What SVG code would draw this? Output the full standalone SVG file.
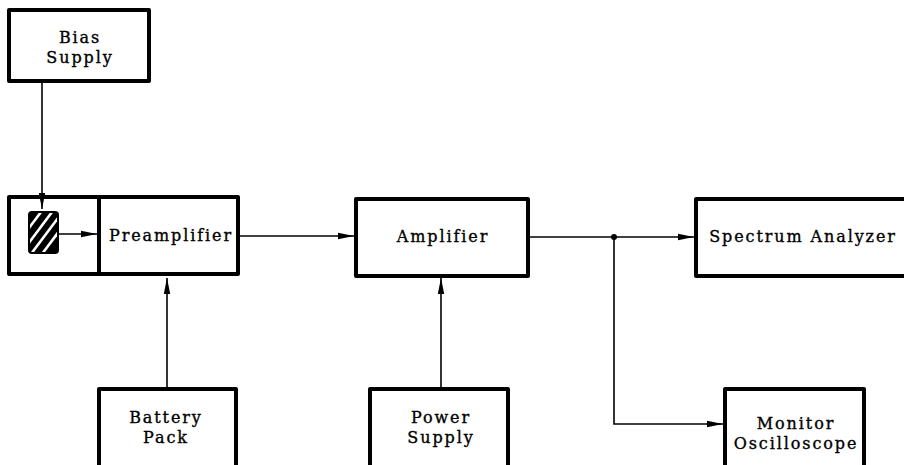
<svg xmlns="http://www.w3.org/2000/svg" width="904" height="465" viewBox="0 0 904 465">
  <style>
    .box { fill: #fff; stroke: #000; stroke-width: 4; stroke-linejoin: round; }
    .wire { fill: none; stroke: #000; stroke-width: 1.6; }
    .lbl { font-family: "DejaVu Serif", "Liberation Serif", serif; font-size: 16px; letter-spacing: 1.9px; fill: #000; stroke: #000; stroke-width: 0.35; text-anchor: middle; }
  </style>
  <defs>
    <marker id="arrow" markerUnits="userSpaceOnUse" markerWidth="16" markerHeight="8" refX="16" refY="4" orient="auto">
      <path d="M0,0.8 L16,4 L0,7.2 Z" fill="#000"/>
    </marker>
    <clipPath id="detClip">
      <rect x="30" y="213" width="27" height="39" rx="2"/>
    </clipPath>
  </defs>
  <rect x="0" y="0" width="904" height="465" fill="#fff"/>

  <g id="bias-supply">
    <rect class="box" x="9" y="10" width="140" height="71"/>
    <text class="lbl" x="80" y="43">Bias</text>
    <text class="lbl" x="80" y="63">Supply</text>
  </g>

  <g id="preamplifier">
    <rect class="box" x="9" y="197" width="229" height="77"/>
    <line x1="99" y1="197" x2="99" y2="274" stroke="#000" stroke-width="4"/>
    <g id="detector">
      <rect x="28" y="211" width="31" height="43" rx="4" fill="#000"/>
      <g clip-path="url(#detClip)" stroke="#fff" stroke-width="2.6">
        <line x1="20" y1="240" x2="50" y2="200"/>
        <line x1="22" y1="252" x2="55" y2="208"/>
        <line x1="28" y1="258" x2="61" y2="214"/>
        <line x1="36" y1="262" x2="66" y2="222"/>
      </g>
    </g>
    <text class="lbl" x="171" y="241">Preamplifier</text>
  </g>

  <g id="amplifier">
    <rect class="box" x="356" y="199" width="172" height="77"/>
    <text class="lbl" x="443" y="242">Amplifier</text>
  </g>

  <g id="spectrum-analyzer">
    <rect class="box" x="696" y="199" width="220" height="77"/>
    <text class="lbl" x="803" y="242">Spectrum Analyzer</text>
  </g>

  <g id="battery-pack">
    <rect class="box" x="99" y="389" width="137" height="85"/>
    <text class="lbl" x="166" y="423">Battery</text>
    <text class="lbl" x="166" y="443">Pack</text>
  </g>

  <g id="power-supply">
    <rect class="box" x="370" y="389" width="138" height="85"/>
    <text class="lbl" x="441" y="423">Power</text>
    <text class="lbl" x="441" y="443">Supply</text>
  </g>

  <g id="monitor-oscilloscope">
    <rect class="box" x="725" y="389" width="139" height="85"/>
    <text class="lbl" x="796" y="429">Monitor</text>
    <text class="lbl" x="796" y="449">Oscilloscope</text>
  </g>

  <!-- signal and supply lines, drawn over the boxes so arrowheads stay visible -->
  <g id="connectors">
    <line class="wire" x1="42" y1="81" x2="42" y2="209" marker-end="url(#arrow)"/>
    <line class="wire" x1="59" y1="234" x2="97" y2="234" marker-end="url(#arrow)"/>
    <line class="wire" x1="240" y1="236" x2="354" y2="236" marker-end="url(#arrow)"/>
    <line class="wire" x1="530" y1="237" x2="694" y2="237" marker-end="url(#arrow)"/>
    <polyline class="wire" points="614,237 614,424 723,424" marker-end="url(#arrow)"/>
    <circle cx="614" cy="237" r="3" fill="#000"/>
    <line class="wire" x1="167" y1="387" x2="167" y2="278" marker-end="url(#arrow)"/>
    <line class="wire" x1="441" y1="387" x2="441" y2="278" marker-end="url(#arrow)"/>
  </g>
</svg>
